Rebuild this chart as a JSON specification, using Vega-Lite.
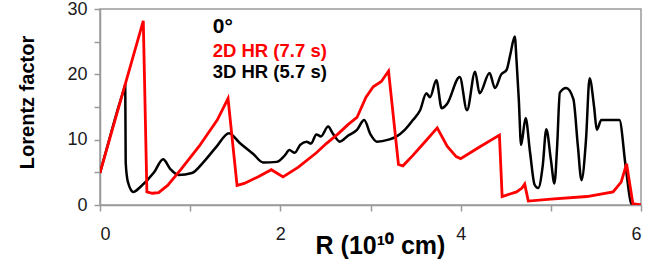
{
  "$schema": "https://vega.github.io/schema/vega-lite/v6.json",
  "autosize": {"type": "none"},
  "padding": {"left": 100, "top": 9, "right": 23, "bottom": 64},
  "width": 541,
  "height": 196,
  "config": {
    "font": "Liberation Sans",
    "view": {"stroke": "#9a9a9a", "strokeWidth": 1.5},
    "axis": {
      "domainColor": "#9a9a9a", "domainWidth": 1.5,
      "tickColor": "#9a9a9a", "tickWidth": 1.5, "tickSize": 6,
      "labelFont": "Liberation Sans", "labelFontSize": 18, "labelColor": "#1a1a1a",
      "titleFont": "Liberation Sans", "titleColor": "#000000", "titleFontWeight": "bold",
      "grid": false
    }
  },
  "datasets": {
    "red": [
      {"r": 0, "g": 4.9}, {"r": 0.48, "g": 28.2}, {"r": 0.52, "g": 2.0}, {"r": 0.58, "g": 1.8},
      {"r": 0.65, "g": 1.9}, {"r": 0.75, "g": 3.0}, {"r": 0.9, "g": 5.5}, {"r": 1.1, "g": 9.0},
      {"r": 1.3, "g": 13.0}, {"r": 1.42, "g": 16.3}, {"r": 1.52, "g": 3.0}, {"r": 1.6, "g": 3.3},
      {"r": 1.75, "g": 4.3}, {"r": 1.9, "g": 5.4}, {"r": 2.03, "g": 4.3}, {"r": 2.2, "g": 5.8},
      {"r": 2.4, "g": 8.0}, {"r": 2.51, "g": 9.4}, {"r": 2.65, "g": 11.0}, {"r": 2.75, "g": 12.3},
      {"r": 2.85, "g": 13.4}, {"r": 2.95, "g": 16.5}, {"r": 3.03, "g": 18.1}, {"r": 3.12, "g": 18.9},
      {"r": 3.2, "g": 20.5}, {"r": 3.31, "g": 6.2}, {"r": 3.36, "g": 6.0}, {"r": 3.47, "g": 7.6},
      {"r": 3.6, "g": 9.6}, {"r": 3.74, "g": 11.8}, {"r": 3.85, "g": 9.0}, {"r": 3.95, "g": 7.4},
      {"r": 4.0, "g": 7.1}, {"r": 4.2, "g": 8.8}, {"r": 4.43, "g": 10.7}, {"r": 4.46, "g": 1.3},
      {"r": 4.62, "g": 2.0}, {"r": 4.68, "g": 2.6}, {"r": 4.71, "g": 3.2}, {"r": 4.75, "g": 0.6},
      {"r": 5.0, "g": 0.9}, {"r": 5.4, "g": 1.3}, {"r": 5.69, "g": 2.0}, {"r": 5.78, "g": 3.5},
      {"r": 5.84, "g": 6.3}, {"r": 5.91, "g": 0.2}, {"r": 6.0, "g": 0}
    ],
    "black": [
      {"r": 0, "g": 4.9}, {"r": 0.1, "g": 9.9}, {"r": 0.2, "g": 14.8}, {"r": 0.265, "g": 17.7},
      {"r": 0.28, "g": 18.4}, {"r": 0.285, "g": 6.5}, {"r": 0.31, "g": 3.5},
      {"r": 0.37, "g": 2.0}, {"r": 0.45, "g": 2.8}, {"r": 0.6, "g": 5.0}, {"r": 0.7, "g": 7.0},
      {"r": 0.78, "g": 5.5}, {"r": 0.87, "g": 4.6}, {"r": 1.02, "g": 4.9}, {"r": 1.15, "g": 6.6},
      {"r": 1.29, "g": 8.9}, {"r": 1.43, "g": 11.0}, {"r": 1.55, "g": 9.5}, {"r": 1.7, "g": 7.8},
      {"r": 1.81, "g": 6.5}, {"r": 1.96, "g": 6.6}, {"r": 2.05, "g": 7.6}, {"r": 2.1, "g": 8.4},
      {"r": 2.16, "g": 8.0}, {"r": 2.22, "g": 9.2}, {"r": 2.29, "g": 9.7}, {"r": 2.34, "g": 9.4},
      {"r": 2.4, "g": 10.8}, {"r": 2.45, "g": 10.5}, {"r": 2.53, "g": 12.0}, {"r": 2.58, "g": 11.0},
      {"r": 2.66, "g": 9.7}, {"r": 2.75, "g": 10.6}, {"r": 2.85, "g": 11.5}, {"r": 2.93, "g": 13.0},
      {"r": 3.0, "g": 10.8}, {"r": 3.07, "g": 9.7}, {"r": 3.2, "g": 10.0}, {"r": 3.29, "g": 10.5},
      {"r": 3.38, "g": 11.5}, {"r": 3.47, "g": 13.0}, {"r": 3.55, "g": 14.5}, {"r": 3.62, "g": 17.1},
      {"r": 3.66, "g": 16.5}, {"r": 3.73, "g": 19.1}, {"r": 3.79, "g": 14.8}, {"r": 3.85, "g": 15.5},
      {"r": 3.99, "g": 19.6}, {"r": 4.07, "g": 14.5}, {"r": 4.16, "g": 20.4}, {"r": 4.21, "g": 17.1},
      {"r": 4.32, "g": 20.2}, {"r": 4.38, "g": 17.9}, {"r": 4.45, "g": 20.0}, {"r": 4.51, "g": 20.7},
      {"r": 4.55, "g": 23.0}, {"r": 4.6, "g": 25.8}, {"r": 4.62, "g": 22.0}, {"r": 4.645, "g": 16.1},
      {"r": 4.67, "g": 9.2}, {"r": 4.72, "g": 13.3}, {"r": 4.77, "g": 8.0}, {"r": 4.82, "g": 3.1},
      {"r": 4.86, "g": 2.6}, {"r": 4.91, "g": 6.0}, {"r": 4.95, "g": 11.6}, {"r": 5.0, "g": 7.0},
      {"r": 5.04, "g": 3.3}, {"r": 5.07, "g": 9.0}, {"r": 5.1, "g": 17.2}, {"r": 5.17, "g": 17.9},
      {"r": 5.25, "g": 16.2}, {"r": 5.3, "g": 9.0}, {"r": 5.34, "g": 3.8}, {"r": 5.39, "g": 10.0},
      {"r": 5.43, "g": 19.4}, {"r": 5.48, "g": 15.0}, {"r": 5.51, "g": 11.5}, {"r": 5.56, "g": 13.0},
      {"r": 5.76, "g": 13.0}, {"r": 5.83, "g": 5.9}, {"r": 5.89, "g": 0.3}, {"r": 5.92, "g": 0},
      {"r": 6.0, "g": 0}
    ],
    "labels": [
      {"r": 1.25, "g": 26.3, "t": "0°", "c": "#000000", "s": 21},
      {"r": 1.25, "g": 22.65, "t": "2D HR (7.7 s)", "c": "#ff0000", "s": 18.5},
      {"r": 1.25, "g": 19.5, "t": "3D HR (5.7 s)", "c": "#000000", "s": 18.5}
    ]
  },
  "encoding": {
    "x": {
      "field": "r", "type": "quantitative",
      "scale": {"domain": [0, 6], "nice": false},
      "axis": {
        "title": "R (10¹⁰ cm)", "titleFontSize": 25,
        "values": [0, 1, 2, 3, 4, 5, 6],
        "labelExpr": "datum.value % 2 == 0 ? datum.label : ''",
        "labelPadding": 14,
        "titleX": 280, "titleY": 48, "titleBaseline": "alphabetic", "titleAlign": "center"
      }
    },
    "y": {
      "field": "g", "type": "quantitative",
      "scale": {"domain": [0, 30], "nice": false},
      "axis": {
        "title": "Lorentz factor", "titleFontSize": 20,
        "values": [0, 5, 10, 15, 20, 25, 30],
        "labelExpr": "datum.value % 10 == 0 ? datum.label : ''",
        "labelPadding": 7,
        "titleX": -67, "titleY": 93, "titleBaseline": "alphabetic", "titleAlign": "center"
      }
    }
  },
  "layer": [
    {
      "data": {"name": "black"},
      "mark": {"type": "line", "color": "#000000", "strokeWidth": 2.5, "clip": true, "interpolate": "monotone"}
    },
    {
      "data": {"name": "red"},
      "mark": {"type": "line", "color": "#ff0000", "strokeWidth": 2.8, "clip": true}
    },
    {
      "data": {"name": "labels"},
      "mark": {"type": "text", "align": "left", "baseline": "alphabetic", "fontWeight": "bold", "font": "Liberation Sans"},
      "encoding": {
        "text": {"field": "t"},
        "color": {"field": "c", "type": "nominal", "scale": null},
        "size": {"field": "s", "type": "quantitative", "scale": null}
      }
    }
  ]
}
